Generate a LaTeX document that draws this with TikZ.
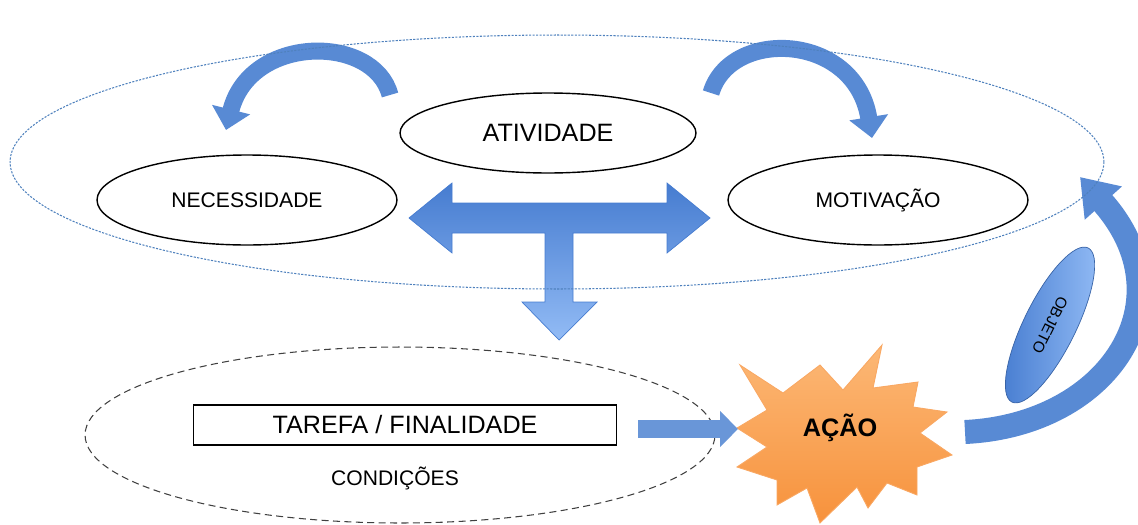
\documentclass[tikz,border=0pt]{standalone}
\usepackage{fontspec}
\setmainfont{Liberation Sans}
\usetikzlibrary{positioning, calc, shapes, arrows.meta}

\definecolor{azulContorno}{RGB}{79,129,189}
\definecolor{azulEscuro}{RGB}{70,124,208}
\definecolor{azulClaro}{RGB}{146,187,245}
\definecolor{azulSeta}{RGB}{88,138,212}
\definecolor{laranjaClaro}{RGB}{252,184,118}
\definecolor{laranjaEscuro}{RGB}{247,146,60}

\begin{document}
\begin{tikzpicture}[x=0.02cm,y=-0.02cm]
		\tikzstyle{conceito}=[ellipse,draw=black,fill=white,line width=0.8pt]
		\tikzstyle{textoG}=[font=\fontsize{14.3}{17}\selectfont]
		\tikzstyle{textoM}=[font=\fontsize{12}{14}\selectfont]
		\tikzstyle{setabloco}=[draw=azulEscuro,line width=0.4pt,top color=azulEscuro,bottom color=azulClaro]
		\tikzstyle{setacurva}=[draw=azulSeta,line width=0.34cm,-{Triangle[length=0.42cm 0,width=0.76cm 0]}]
		\tikzstyle{setareta}=[draw=azulSeta!90,line width=0.36cm,-{Triangle[length=0.36cm 0,width=0.7cm 0]}]
		
		\useasboundingbox (0,0) rectangle (1138,524);
		
		%% Condicoes
		\node[ellipse,draw=black!75,line width=0.6pt,dash pattern=on 4pt off 2.5pt,
		minimum width=12.6cm,minimum height=3.52cm] (condicoes) at (400,435) {};
		\node[draw=black,line width=0.6pt,minimum width=8.48cm,minimum height=0.8cm,textoG] (tarefa) at (405,425) {TAREFA / FINALIDADE};
		\node[textoM] (condtexto) at (395,478) {CONDIÇÕES};
		
		%% Conceitos
		\node[conceito,minimum width=5.92cm,minimum height=1.6cm,textoG] (atividade) at (548,133) {ATIVIDADE};
		\node[conceito,minimum width=6cm,minimum height=1.8cm,textoM] (necessidade) at (247,200) {NECESSIDADE};
		\node[conceito,minimum width=6cm,minimum height=1.8cm,textoM] (motivacao) at (878,200) {MOTIVAÇÃO};
		
		%% Setas curvas
		\coordinate (necCauda) at (390,95);
		\coordinate (necPonta) at (226,130);
		\coordinate (motCauda) at (711,93);
		\coordinate (motPonta) at (872,138);
		\draw[setacurva] (necCauda) .. controls (374,34) and (250,34) .. (necPonta);
		\draw[setacurva] (motCauda) .. controls (730,28) and (855,32) .. (motPonta);
		
		%% Seta em T
		\path[setabloco] (409,218) -- (452,183) -- (452,203) -- (667,203) -- (667,183) -- (710,218)
		-- (667,253) -- (667,233) -- (573,233) -- (573,302) -- (597,302) -- (559,340)
		-- (522,302) -- (545,302) -- (545,233) -- (452,233) -- (452,253) -- cycle;
		
		%% Acao
		\path[draw=laranjaEscuro!80,line width=0.5pt,top color=laranjaClaro,bottom color=laranjaEscuro]
		(740,365) -- (783,393) -- (820,365) -- (843,390) -- (882,345) -- (873,388)
		-- (918,382) -- (913,407) -- (947,412) -- (920,433) -- (952,455) -- (917,467)
		-- (917,495) -- (887,483) -- (868,508) -- (857,487) -- (820,523) -- (807,488)
		-- (777,505) -- (777,480) -- (737,467) -- (767,447) -- (737,428) -- (767,410) -- cycle;
		\node[font=\fontsize{14.4}{17}\selectfont\bfseries] (acao) at (840,428) {AÇÃO};
		\coordinate (acaoEntrada) at (738,429);
		\coordinate (acaoSaida) at (965,432);
		\draw[setareta] ($(tarefa.east)+(21,4)$) -- (acaoEntrada);
		
		%% Objeto
		\coordinate (objPonta) at (1080,177);
		\draw[setacurva,line width=0.48cm,-{Triangle[length=0.7cm 0,width=0.95cm 0]}]
		(acaoSaida) .. controls (1110,425) and (1190,300) .. (objPonta);
		\node[ellipse,draw=azulEscuro!80!black,line width=0.4pt,left color=azulEscuro,right color=azulClaro,
		rotate=-116.3,minimum width=3.44cm,minimum height=1.04cm,
		font=\fontsize{8.8}{10}\selectfont] (objeto) at (1050,325) {OBJETO};
		
		%% Atividade (contorno geral)
		\node[ellipse,draw=azulContorno,line width=0.6pt,dash pattern=on 1.2pt off 0.8pt,
		minimum width=21.88cm,minimum height=5.08cm] (geral) at (557,162) {};
		
	\end{tikzpicture}
\end{document}
